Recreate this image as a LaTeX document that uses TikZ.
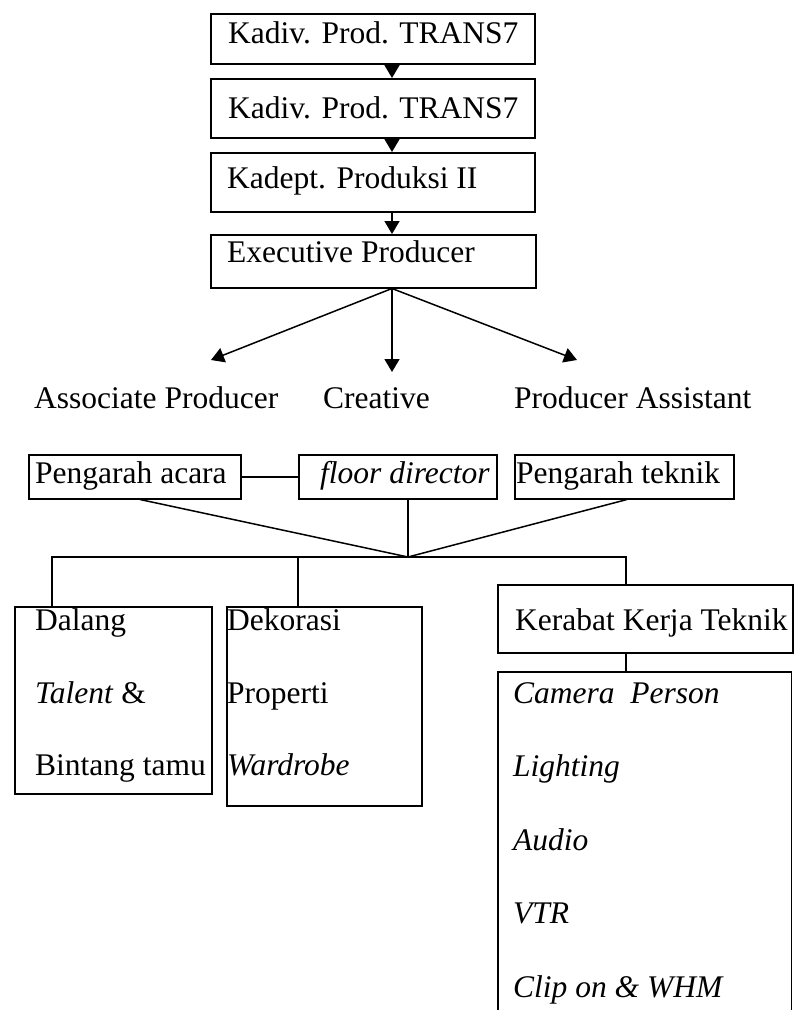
\documentclass[tikz,border=0pt]{standalone}
\usepackage{fontspec}
\setmainfont{Liberation Serif}
\usetikzlibrary{arrows.meta,calc}
\tikzset{
  boxst/.style={draw, rectangle, inner sep=0pt, anchor=north west, line width=1.5pt},
  hidebox/.style={rectangle, inner sep=0pt, anchor=north west},
  txt/.style={inner sep=0pt, anchor=base west, font=\fontsize{31.5}{37}\selectfont},
  itxt/.style={txt, font=\fontsize{31.5}{37}\selectfont\itshape},
  conn/.style={line width=1.5pt},
  arr/.style={line width=1.5pt, -{Triangle[width=15pt,length=13pt]}}
}
\begin{document}
\begin{tikzpicture}[x=1pt,y=-1pt]
\useasboundingbox (0,0) rectangle (795,1010);
% top chain boxes
\node[boxst, minimum width=324, minimum height=50] (b1) at (210,13) {};
\node[boxst, minimum width=324, minimum height=59] (b2) at (210,78) {};
\node[boxst, minimum width=324, minimum height=59] (b3) at (210,152) {};
\node[boxst, minimum width=325, minimum height=53] (b4) at (210,234) {};
\node[txt] (t1) at (228,43) {Kadiv. Prod. TRANS7};
\node[txt] (t2) at (228,118) {Kadiv. Prod. TRANS7};
\node[txt] (t3) at (227,188) {Kadept. Produksi II};
\node[txt] (t4) at (227,262) {Executive Producer};
\coordinate (ax) at (392,0);
\draw[arr] (b1.south -| ax) -- (b2.north -| ax);
\draw[arr] (b2.south -| ax) -- (b3.north -| ax);
\draw[arr] (b3.south -| ax) -- (b4.north -| ax);
% fan-out
\coordinate (tipL) at (211,360);
\coordinate (tipM) at (392,372);
\coordinate (tipR) at (577,360);
\draw[arr] (b4.south -| ax) -- (tipL);
\draw[arr] (b4.south -| ax) -- (tipM);
\draw[arr] (b4.south -| ax) -- (tipR);
\node[txt] (ap) at (34,408) {Associate Producer};
\node[txt] (cr) at (323,408) {Creative};
\node[txt] (pas) at (514,408) {Producer Assistant};
% second level
\node[boxst, minimum width=212, minimum height=44] (pa) at (28,454) {};
\node[boxst, minimum width=198, minimum height=44] (fd) at (298,454) {};
\node[boxst, minimum width=219, minimum height=44] (pt) at (514,454) {};
\node[txt] (tpa) at (35,483) {Pengarah acara};
\node[itxt] (tfd) at (320,483) {floor director};
\node[txt] (tpt) at (516,483) {Pengarah teknik};
\draw[conn] (pa.east) -- (fd.west);
\coordinate (J) at (408,557);
\coordinate (pax) at (140,0);
\coordinate (ptx) at (627,0);
\draw[conn] (pa.south -| pax) -- (J);
\draw[conn] (fd.south -| J) -- (J);
\draw[conn] (pt.south -| ptx) -- (J);
% bottom level
\node[boxst, minimum width=197, minimum height=187] (dl) at (14,606) {};
\node[boxst, minimum width=195, minimum height=199] (dk) at (226,606) {};
\node[boxst, minimum width=295, minimum height=68] (kb) at (497,584) {};
\node[hidebox, minimum width=293, minimum height=338] (cm) at (498,672) {};
\draw[conn] (cm.south west) -- (cm.north west) -- (cm.north east) -- (cm.south east);
\coordinate (c1) at (52,557);
\coordinate (c2) at (298,557);
\coordinate (c3) at (626,557);
\draw[conn] (dl.north -| c1) -- (c1) -- (c3) -- (kb.north -| c3);
\draw[conn] (dk.north -| c2) -- (c2);
\draw[conn] (kb.south -| c3) -- (cm.north -| c3);
% texts bottom
\node[txt] (d1) at (35,630) {Dalang};
\node[txt] (d2) at (35,703) {\textit{Talent} \&};
\node[txt] (d3) at (35,775) {Bintang tamu};
\node[txt] (k1) at (227,630) {Dekorasi};
\node[txt] (k2) at (227,703) {Properti};
\node[itxt] (k3) at (227,775) {Wardrobe};
\node[txt] (kt) at (515,630) {Kerabat Kerja Teknik};
\node[itxt] (m1) at (513,703) {Camera\ \ Person};
\node[itxt] (m2) at (513,776) {Lighting};
\node[itxt] (m3) at (513,850) {Audio};
\node[itxt] (m4) at (513,923) {VTR};
\node[itxt] (m5) at (513,997) {Clip on \& WHM};
\end{tikzpicture}
\end{document}
